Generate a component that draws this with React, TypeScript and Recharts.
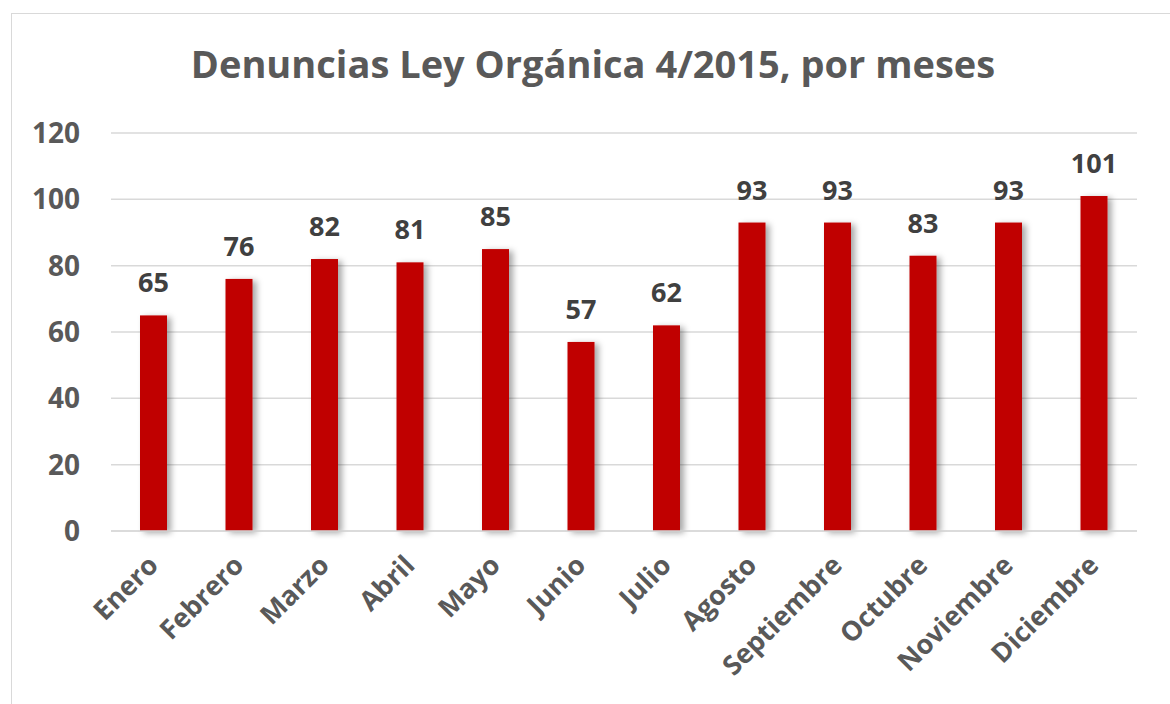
import { BarChart, Bar, XAxis, YAxis, CartesianGrid, LabelList } from "recharts";

const months = [
  "Enero", "Febrero", "Marzo", "Abril", "Mayo", "Junio",
  "Julio", "Agosto", "Septiembre", "Octubre", "Noviembre", "Diciembre",
];
const denuncias = [65, 76, 82, 81, 85, 57, 62, 93, 93, 83, 93, 101];
const yTicks = [0, 20, 40, 60, 80, 100, 120];

const data = months.map((mes, i) => ({ mes, valor: denuncias[i] }));

const FONT = "'Open Sans', sans-serif";
const TEXT = "#595959";

function ShadowBar(props: any) {
  const { x, y, width, height, fill } = props;
  if (height <= 0) return null;
  return <rect x={x} y={y} width={width} height={height} fill={fill} filter="url(#barShadow)" />;
}

// baseline end of each label sits just right of the bar centre
function MonthTick({ x, y, payload }: any) {
  const tx = x + 6;
  return (
    <text
      x={tx}
      y={y}
      transform={`rotate(-45, ${tx}, ${y})`}
      textAnchor="end"
      fill={TEXT}
      fontFamily={FONT}
      fontWeight={700}
      fontSize={27}
    >
      {payload.value}
    </text>
  );
}

export default function App() {
  return (
    <div style={{ position: "absolute", left: 0, top: 0, width: 1170, height: 704, background: "#fff", overflow: "hidden" }}>
      <div style={{ position: "absolute", left: 11, top: 13, width: 1170, height: 720, border: "1px solid #d9d9d9" }} />
      <div
        style={{
          position: "absolute", left: 0, top: 37, width: 1186, textAlign: "center",
          fontFamily: FONT, fontWeight: 700, fontSize: 38, color: TEXT,
        }}
      >
        Denuncias Ley Orgánica 4/2015, por meses
      </div>
      <div style={{ position: "absolute", left: 0, top: 0 }}>
        <BarChart width={1170} height={704} data={data} margin={{ top: 133, right: 33, bottom: 23, left: 0 }}>
          <defs>
            <filter id="barShadow" x="-30%" y="-10%" width="180%" height="130%">
              <feDropShadow dx={4} dy={2} stdDeviation={3} floodColor="#000" floodOpacity={0.35} />
            </filter>
          </defs>
          <CartesianGrid vertical={false} stroke="#d9d9d9" strokeWidth={1.5} />
          <XAxis
            dataKey="mes"
            height={150}
            interval={0}
            tickLine={false}
            tickSize={0}
            axisLine={{ stroke: "#d9d9d9", strokeWidth: 1.5 }}
            tick={<MonthTick />}
            tickMargin={36}
          />
          <YAxis
            width={111}
            domain={[0, 120]}
            ticks={yTicks}
            axisLine={false}
            tickLine={false}
            tickSize={0}
            tickMargin={31}
            tick={{ fill: TEXT, fontFamily: FONT, fontWeight: 700, fontSize: 28 }}
          />
          <Bar dataKey="valor" fill="#C00000" barSize={27} shape={<ShadowBar />} isAnimationActive={false}>
            <LabelList
              dataKey="valor"
              position="top"
              offset={23}
              fill="#404040"
              fontFamily={FONT}
              fontWeight={700}
              fontSize={27}
            />
          </Bar>
        </BarChart>
      </div>
    </div>
  );
}
